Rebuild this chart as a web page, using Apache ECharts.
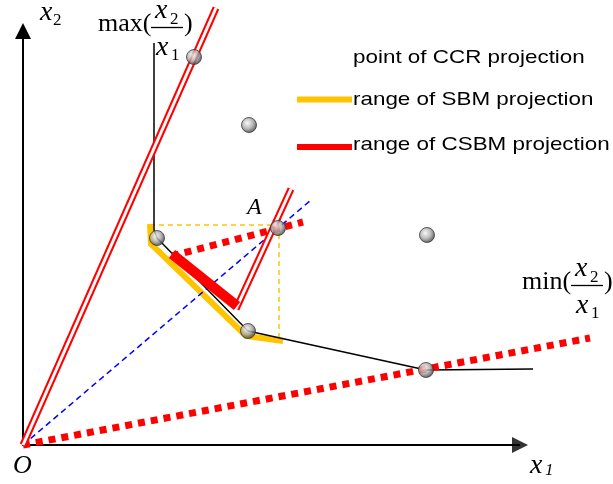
<!DOCTYPE html>
<html>
<head>
<meta charset="utf-8">
<script src="https://cdn.jsdelivr.net/npm/echarts@6/dist/echarts.min.js"></script>
<style>
  html, body { margin: 0; padding: 0; background: #fff; }
  #chart { width: 613px; height: 484px; }
</style>
</head>
<body>
<div id="chart"></div>
<script>
// Input space (x1, x2); units are arbitrary, origin at O.
const ccrPoints   = [[171, 388], [226, 320], [404, 210], [255, 217], [134, 207], [225, 114], [403, 75]];
const frontier    = [[131, 402], [131, 215], [134, 207], [225, 114], [403, 75], [510, 76]];
const sbmRange    = [[127, 221], [128, 201], [223, 109], [260, 104]];
const sbmGuideH   = [[127, 220], [256, 220]];
const sbmGuideV   = [[256, 220], [256, 107]];
const rayToA      = [[0, 0], [288, 245]];
const maxRatioRay = [[0, 0], [193, 437]];
const minRatioRay = [[0, 0], [567, 107]];
const csbmCone    = [[213, 136], [268, 256]];
const csbmDir     = [[149, 189], [280, 223]];
const csbmRange   = [[149, 191], [214, 139]];
// horizontal (x1) axis drawn as a series so the rays may run past its arrow
const x1AxisLine  = [[0, 0], [497, 0]];
const x1AxisTip   = [[497, 0]];

const legendItems = ['point of CCR projection', 'range of SBM projection', 'range of CSBM projection'];

const RED = '#ff0000';
const YELLOW = '#ffc400';
const SERIF = '"Liberation Serif", "Times New Roman", serif';
const SANS = '"Liberation Sans", Arial, sans-serif';

function seg(data, style, z) {
  return {
    type: 'line', data: data, symbol: 'none', clip: false, silent: true,
    lineStyle: style, z: z, animation: false
  };
}
function doubleLine(data, z) {
  return [
    seg(data, { color: RED, width: 7, cap: 'butt' }, z),
    seg(data, { color: '#ffffff', width: 3, cap: 'butt' }, z + 0.1)
  ];
}
function txt(str, x, y, font, extra) {
  return Object.assign({
    type: 'text', x: x, y: y, silent: true,
    style: {
      text: str, font: font, fill: '#000',
      align: 'left', verticalAlign: 'middle',
      textAlign: 'left', textVerticalAlign: 'middle'
    }
  }, extra || {});
}
function hline(x1, x2, y, color, w) {
  return { type: 'line', silent: true, shape: { x1: x1, y1: y, x2: x2, y2: y },
           style: { stroke: color, lineWidth: w } };
}
// fraction label such as max(x2/x1): left edge and text baseline
function ratioLabel(word, left, base, wordWidth) {
  const fx = left + wordWidth;
  return [
    txt(word + '(', left, base - 9, '26px ' + SERIF),
    txt('x', fx + 4, base - 22, 'italic 28px ' + SERIF),
    txt('2', fx + 19, base - 13, '17px ' + SERIF),
    hline(fx, fx + 32, base - 5.5, '#000', 1.3),
    txt('x', fx + 5, base + 15, 'italic 28px ' + SERIF),
    txt('1', fx + 20, base + 23, '17px ' + SERIF),
    txt(')', fx + 33, base - 9, '26px ' + SERIF)
  ];
}

const chart = echarts.init(document.getElementById('chart'), null, { renderer: 'canvas' });

const sphere = {
  type: 'radial', x: 0.4, y: 0.38, r: 0.62,
  colorStops: [
    { offset: 0, color: '#f6f6f6' },
    { offset: 0.55, color: '#a9a9a9' },
    { offset: 1, color: '#3c3c3c' }
  ]
};

const option = {
  backgroundColor: '#ffffff',
  animation: false,
  grid: { left: 23, right: 13, top: 31, bottom: 39 },
  xAxis: {
    type: 'value', min: 0, max: 577,
    axisLine: { show: false }, axisTick: { show: false }, axisLabel: { show: false },
    splitLine: { show: false }
  },
  yAxis: {
    type: 'value', min: 0, max: 414,
    axisLine: {
      show: true,
      symbol: ['none', 'triangle'],
      symbolSize: [16, 16],
      lineStyle: { color: '#000', width: 2 }
    },
    axisTick: { show: false }, axisLabel: { show: false },
    splitLine: { show: false }
  },
  series: [
    seg(x1AxisLine, { color: '#000', width: 2, cap: 'butt' }, 1),
    {
      type: 'scatter', data: x1AxisTip, symbol: 'triangle', symbolSize: 16,
      symbolRotate: -90, clip: false, silent: true, animation: false,
      itemStyle: { color: '#000' }, z: 1
    },
    seg(sbmRange, { color: YELLOW, width: 6, cap: 'butt', join: 'miter' }, 2),
    seg(sbmGuideH, { color: YELLOW, width: 1.5, type: [5, 4] }, 2),
    seg(sbmGuideV, { color: YELLOW, width: 1.5, type: [5, 4] }, 2),
    seg(frontier, { color: '#000', width: 1.5 }, 3),
    seg(rayToA, { color: '#0000ff', width: 1.5, type: [6, 4] }, 3),
    seg(minRatioRay, { color: RED, width: 7, type: [7, 6], cap: 'butt' }, 4),
    ...doubleLine(maxRatioRay, 4),
    ...doubleLine(csbmCone, 4),
    seg(csbmDir, { color: RED, width: 7, type: [7, 6], cap: 'butt' }, 5),
    seg(csbmRange, { color: RED, width: 10, cap: 'butt' }, 6),
    {
      type: 'scatter', data: ccrPoints, symbol: 'circle', symbolSize: 15,
      itemStyle: { color: sphere, borderColor: '#3a3a3a', borderWidth: 1 },
      z: 10, silent: true, animation: false
    }
  ],
  graphic: {
    elements: [
      // axis names and point labels
      txt('x', 40, 12.5, 'italic 28px ' + SERIF),
      txt('2', 53, 21, '17px ' + SERIF),
      txt('x', 530, 465.5, 'italic 28px ' + SERIF),
      txt('1', 545, 471, 'italic 17px ' + SERIF),
      txt('O', 13, 466, 'italic 26px ' + SERIF),
      txt('A', 247, 208, 'italic 24px ' + SERIF),
      ...ratioLabel('max', 98, 33, 53),
      ...ratioLabel('min', 522, 291, 49),
      // legend
      txt(legendItems[0], 353, 58, '19px ' + SANS, { scaleX: 1.18 }),
      hline(297, 352, 99.5, YELLOW, 6),
      txt(legendItems[1], 353, 100, '19px ' + SANS, { scaleX: 1.18 }),
      hline(297, 352, 147, RED, 6),
      txt(legendItems[2], 353, 145, '19px ' + SANS, { scaleX: 1.18 })
    ]
  }
};

chart.setOption(option);
</script>
</body>
</html>
